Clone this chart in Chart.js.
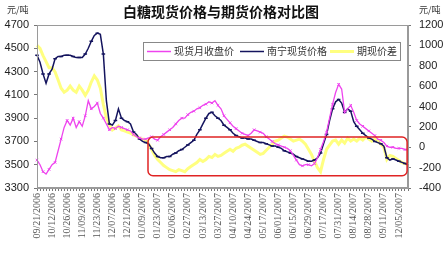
<!DOCTYPE html>
<html>
<head>
<meta charset="utf-8">
<script src="https://cdn.jsdelivr.net/npm/chart.js@4/dist/chart.umd.min.js"></script>
<style>
  html, body { margin: 0; padding: 0; background: #fff; }
  #wrap { width: 447px; height: 256px; }
</style>
</head>
<body>
<div id="wrap"><canvas id="c"></canvas></div>
<script>
// tick labels, one every 5 points (2 trading days per point)
const tickLabels = ['09/21/2006','10/12/2006','10/26/2006','11/09/2006','11/23/2006','12/07/2006','12/21/2006',
  '01/09/2007','01/23/2007','02/06/2007','02/27/2007','03/13/2007','03/27/2007','04/10/2007','04/24/2007',
  '05/17/2007','06/01/2007','06/15/2007','06/29/2007','07/17/2007','07/31/2007','08/14/2007','08/28/2007',
  '09/11/2007','12/05/2007'];
const labelEvery = 5;

// 现货月收盘价 (left axis)
const spotClose = [3540,3500,3440,3420,3460,3500,3520,3620,3720,3820,
  3880,3840,3900,3820,3870,3830,3920,4050,3980,4000,
  4030,3940,3900,3850,3800,3820,3810,3830,3820,3810,
  3800,3790,3760,3740,3730,3720,3720,3730,3740,3720,
  3710,3740,3760,3780,3800,3820,3850,3880,3900,3900,
  3930,3950,3960,3980,3990,4010,4020,4040,4030,4050,
  4010,3980,3920,3890,3860,3830,3810,3790,3770,3760,
  3750,3770,3800,3790,3780,3770,3740,3720,3700,3680,
  3670,3660,3650,3640,3620,3580,3540,3500,3490,3500,
  3500,3490,3510,3560,3630,3700,3780,3900,4020,4120,
  4190,4150,3950,3980,4010,3950,3880,3850,3830,3810,
  3790,3770,3750,3720,3710,3690,3660,3650,3650,3640,
  3640,3640,3630,3630];

// 南宁现货价格 (left axis)
const nanning = [4440,4380,4280,4200,4280,4320,4410,4430,4430,4440,
  4440,4440,4430,4420,4420,4420,4450,4500,4560,4610,
  4630,4620,4450,4050,3850,3840,3880,3980,3900,3880,
  3870,3850,3780,3760,3720,3700,3690,3680,3640,3600,
  3570,3560,3560,3570,3570,3590,3600,3620,3630,3650,
  3670,3690,3710,3760,3800,3850,3900,3940,3950,3920,
  3900,3880,3840,3820,3800,3770,3750,3740,3730,3730,
  3720,3720,3710,3700,3690,3690,3680,3670,3660,3660,
  3650,3640,3620,3610,3600,3590,3570,3560,3550,3540,
  3530,3530,3540,3560,3600,3680,3760,3880,3980,4040,
  4060,4030,3950,3980,3960,3870,3830,3800,3770,3750,
  3730,3720,3700,3690,3680,3660,3560,3540,3550,3540,
  3530,3520,3510,3500];

// 期现价差 (right axis)
const basis = [1000,970,900,840,780,780,740,660,580,540,
  560,600,560,540,600,560,510,560,640,700,
  660,580,420,290,220,170,190,210,170,160,
  150,140,120,110,90,80,70,30,-20,-80,
  -120,-150,-180,-200,-220,-230,-240,-220,-230,-240,
  -210,-190,-170,-150,-120,-140,-120,-90,-100,-70,
  -90,-80,-60,-40,-20,-40,-10,0,20,30,
  10,-10,-30,-50,-70,-60,-30,0,30,60,
  70,90,110,100,80,60,70,80,60,30,
  -20,-70,-140,-200,-240,-120,-20,20,60,70,
  30,70,40,90,60,80,60,90,70,100,
  80,60,80,60,30,0,-120,-80,-90,-110,
  -130,-150,-160,-170];

// highlighted region (category index / right-axis value)
const boxFrom = 36.8, boxTo = 122.7, boxTop = 100, boxBottom = -280;

const categories = spotClose.map((v, i) => i % labelEvery === 0 ? (tickLabels[i / labelEvery] || '') : '');

const legendItems = [
  { text: '现货月收盘价', color: '#ee44ee', width: 1.5, x: 147 },
  { text: '南宁现货价格', color: '#14145e', width: 1.5, x: 240 },
  { text: '期现价差', color: '#ffff80', width: 3, x: 330 }
];

const overlay = {
  id: 'overlay',
  afterDraw(chart) {
    const { ctx, chartArea: a, scales } = chart;
    ctx.save();
    // plot frame
    ctx.strokeStyle = '#9a9a9a';
    ctx.lineWidth = 1;
    ctx.strokeRect(a.left + 0.5, a.top + 0.5, a.right - a.left - 1, a.bottom - a.top - 1);

    // red rounded box
    const x0 = scales.x.getPixelForValue(boxFrom), x1 = scales.x.getPixelForValue(boxTo);
    const y0 = scales.y1.getPixelForValue(boxTop), y1 = scales.y1.getPixelForValue(boxBottom);
    ctx.beginPath();
    ctx.roundRect(x0, y0, x1 - x0, y1 - y0, 5);
    ctx.strokeStyle = '#e02424';
    ctx.lineWidth = 1.5;
    ctx.stroke();

    // title and units
    ctx.fillStyle = '#111';
    ctx.textBaseline = 'middle';
    ctx.textAlign = 'center';
    ctx.font = 'bold 14px "Noto Sans CJK SC"';
    ctx.fillText('白糖现货价格与期货价格对比图', 221, 12);
    ctx.font = '9px "Noto Sans CJK SC"';
    ctx.textAlign = 'left';
    ctx.fillStyle = '#333';
    ctx.fillText('元/吨', 7, 10);
    ctx.fillText('元/吨', 419, 10);

    // legend
    ctx.fillStyle = '#fff';
    ctx.fillRect(143, 42, 257, 18);
    ctx.strokeStyle = '#888';
    ctx.lineWidth = 1;
    ctx.strokeRect(143.5, 42.5, 257, 18);
    ctx.font = '10px "Noto Sans CJK SC"';
    legendItems.forEach(it => {
      ctx.beginPath();
      ctx.moveTo(it.x, 51.5);
      ctx.lineTo(it.x + 24, 51.5);
      ctx.strokeStyle = it.color;
      ctx.lineWidth = it.width;
      ctx.stroke();
      ctx.fillStyle = '#333';
      ctx.fillText(it.text, it.x + 27, 51.5);
    });
    ctx.restore();
  }
};

const yTicks = {
  font: { family: 'Liberation Sans', size: 11 }, color: '#222', stepSize: 200,
  callback: v => String(v)
};

new Chart(document.getElementById('c'), {
  type: 'line',
  data: {
    labels: categories,
    datasets: [
      {
        label: '现货月收盘价', data: spotClose, yAxisID: 'y', order: 1,
        borderColor: '#ee44ee', borderWidth: 1.3, backgroundColor: '#ee44ee',
        pointStyle: 'crossRot', pointRadius: ctx => ctx.dataIndex % 2 ? 0 : 1.8,
        pointBorderWidth: 1, tension: 0
      },
      {
        label: '南宁现货价格', data: nanning, yAxisID: 'y', order: 2,
        borderColor: '#14145e', borderWidth: 1.5, backgroundColor: '#14145e',
        pointStyle: 'line', pointRadius: ctx => ctx.dataIndex % 2 ? 0 : 1.8,
        pointBorderWidth: 1.5, tension: 0
      },
      {
        label: '期现价差', data: basis, yAxisID: 'y1', order: 3,
        borderColor: '#ffff80', borderWidth: 3, pointRadius: 0, tension: 0
      }
    ]
  },
  options: {
    responsive: true,
    maintainAspectRatio: false,
    animation: false,
    layout: { padding: { top: 25, bottom: 0, left: 0, right: 0 } },
    plugins: { legend: { display: false }, tooltip: { enabled: false } },
    scales: {
      x: {
        grid: { drawOnChartArea: false, tickLength: 3, color: '#777' },
        border: { color: '#9a9a9a' },
        ticks: {
          autoSkip: false, maxRotation: 90, minRotation: 90, padding: 2,
          font: { family: 'Liberation Serif', size: 10 }, color: '#555'
        },
        afterFit: s => { s.height = 68; }
      },
      y: {
        position: 'left', min: 3300, max: 4700,
        grid: { drawOnChartArea: false, tickLength: 3, color: '#777' },
        border: { color: '#9a9a9a' },
        ticks: { ...yTicks, padding: 5 },
        afterFit: s => { s.width = 37; }
      },
      y1: {
        position: 'right', min: -400, max: 1200,
        grid: { drawOnChartArea: false, tickLength: 3, color: '#777' },
        border: { color: '#9a9a9a' },
        ticks: { ...yTicks, padding: 8 },
        afterFit: s => { s.width = 39; }
      }
    }
  },
  plugins: [overlay]
});
</script>
</body>
</html>
